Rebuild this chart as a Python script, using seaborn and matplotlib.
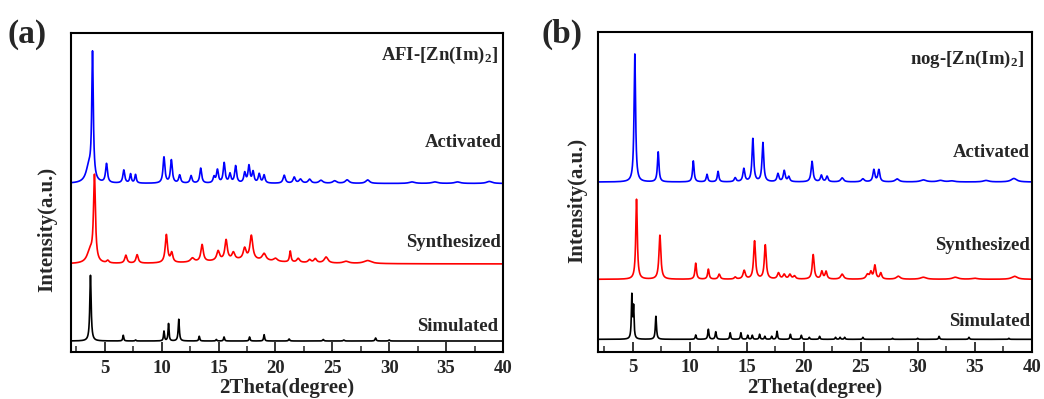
import numpy as np
import pandas as pd
import matplotlib
matplotlib.use("Agg")
import matplotlib.pyplot as plt
import seaborn as sns
from matplotlib.ticker import MultipleLocator

sns.set_theme(style="ticks")
plt.rcParams['font.family'] = ['Liberation Serif', 'DejaVu Serif']
plt.rcParams['font.weight'] = 'bold'
plt.rcParams['mathtext.fontset'] = 'custom'
plt.rcParams['mathtext.rm'] = 'Liberation Serif:bold'
plt.rcParams['mathtext.it'] = 'Liberation Serif:bold'
plt.rcParams['mathtext.bf'] = 'Liberation Serif:bold'
plt.rcParams['mathtext.default'] = 'rm'

# ---------------- Data (peak lists) ----------------
# Panel (a) AFI-[Zn(Im)2]
a_sim_base = 11.0
a_sim_pos = [3.74, 6.62, 7.7, 10.2, 10.6, 11.5, 13.3, 14.8, 15.48, 17.72, 19.0, 21.2, 24.2, 26.0, 28.8, 30.0]
a_sim_hgt = [65.7, 5.7, 1.0, 9.7, 17.3, 21.7, 4.7, 1.5, 4.0, 4.0, 6.3, 2.0, 1.5, 1.0, 3.0, 1.0]
a_sim_wid = [0.07, 0.05, 0.05, 0.05, 0.05, 0.06, 0.05, 0.05, 0.05, 0.05, 0.05, 0.06, 0.06, 0.06, 0.06, 0.06]

a_syn_base = 88.0
a_syn_pos = [3.7, 4.09, 5.26, 6.85, 7.84, 10.41, 10.88, 12.7, 13.55, 14.96, 15.66, 16.3, 17.29, 17.88,
             19.0, 20.0, 21.3, 22.0, 23.0, 23.5, 24.45, 26.2, 28.1, 17.0]
a_syn_hgt = [12.0, 85.0, 2.5, 8.0, 8.5, 28.0, 9.5, 4.0, 17.0, 9.5, 20.0, 7.0, 11.0, 24.0,
             7.0, 3.0, 11.0, 4.0, 3.0, 4.0, 6.0, 2.0, 3.0, 4.0]
a_syn_wid = [0.3, 0.1, 0.12, 0.12, 0.12, 0.12, 0.12, 0.2, 0.13, 0.15, 0.13, 0.15, 0.15, 0.15,
             0.2, 0.2, 0.08, 0.15, 0.15, 0.15, 0.2, 0.3, 0.4, 3.5]

a_act_base = 168.5
a_act_pos = [3.6, 3.92, 5.15, 6.67, 7.26, 7.7, 10.2, 10.85, 11.58, 12.58, 13.43, 14.6, 14.9, 15.49, 16.0,
             16.5, 17.3, 17.67, 18.03, 18.57, 19.0, 20.77, 21.65, 22.2, 23.0, 24.0, 25.2, 26.3, 28.1,
             32.0, 34.0, 36.0, 38.8]
a_act_hgt = [16.0, 125.0, 19.0, 13.0, 9.0, 8.5, 26.0, 23.0, 8.0, 7.5, 15.0, 6.0, 13.0, 20.0, 9.0,
             17.0, 10.0, 17.0, 11.0, 9.0, 8.0, 8.0, 6.0, 4.0, 4.0, 3.0, 2.5, 3.5, 3.5,
             1.5, 1.5, 1.5, 2.0]
a_act_wid = [0.3, 0.08, 0.1, 0.1, 0.08, 0.08, 0.1, 0.1, 0.1, 0.1, 0.1, 0.1, 0.1, 0.1, 0.1,
             0.1, 0.1, 0.1, 0.1, 0.1, 0.1, 0.12, 0.12, 0.15, 0.15, 0.2, 0.2, 0.2, 0.2,
             0.3, 0.3, 0.3, 0.3]

# Panel (b) nog-[Zn(Im)2]
b_sim_base = 12.4
b_sim_pos = [4.94, 5.09, 7.05, 10.54, 11.65, 12.3, 13.56, 14.5, 15.1, 15.5, 16.14, 16.6, 17.2, 17.67,
             18.84, 19.8, 20.5, 21.4, 22.8, 23.2, 23.6, 25.2, 27.8, 30.0, 31.88, 34.5, 38.0]
b_sim_hgt = [43.0, 31.0, 23.0, 4.3, 10.0, 7.5, 6.5, 6.5, 4.0, 4.0, 5.0, 3.0, 3.0, 8.0,
             5.0, 4.0, 2.0, 3.0, 2.0, 2.0, 2.0, 2.0, 1.0, 1.0, 3.0, 2.0, 1.0]
b_sim_wid = [0.05, 0.05, 0.06, 0.05, 0.06, 0.06, 0.05, 0.05, 0.05, 0.05, 0.05, 0.05, 0.05, 0.05,
             0.05, 0.05, 0.05, 0.05, 0.05, 0.05, 0.05, 0.05, 0.05, 0.05, 0.05, 0.05, 0.05]

b_syn_base = 72.4
b_syn_pos = [5.35, 7.4, 10.54, 11.65, 12.6, 14.0, 14.79, 15.7, 16.64, 17.8, 18.3, 18.8, 19.2,
             20.84, 21.6, 21.97, 23.38, 25.6, 25.9, 26.25, 26.77, 28.3, 30.5, 33.3, 35.0, 38.5]
b_syn_hgt = [80.0, 44.0, 16.0, 10.0, 5.0, 2.0, 8.5, 38.0, 34.0, 6.0, 4.5, 4.5, 3.0,
             24.5, 7.5, 7.5, 5.0, 4.5, 6.5, 13.5, 6.0, 3.0, 2.0, 2.0, 1.0, 3.0]
b_syn_wid = [0.08, 0.1, 0.08, 0.08, 0.1, 0.1, 0.12, 0.1, 0.1, 0.12, 0.12, 0.12, 0.12,
             0.1, 0.1, 0.1, 0.15, 0.15, 0.1, 0.1, 0.1, 0.2, 0.3, 0.3, 0.3, 0.3]

b_act_base = 169.7
b_act_pos = [5.2, 7.25, 10.33, 11.53, 12.5, 14.0, 14.76, 15.55, 16.43, 17.75, 18.3, 18.7,
             20.74, 21.56, 22.06, 23.38, 25.2, 26.16, 26.6, 28.2, 30.5, 32.0, 33.0, 36.0, 38.44]
b_act_hgt = [128.0, 30.0, 21.0, 7.5, 10.5, 4.0, 13.0, 43.0, 39.0, 8.0, 11.0, 5.0,
             20.5, 6.5, 5.5, 4.0, 3.0, 12.0, 12.0, 3.0, 2.0, 1.5, 1.0, 1.5, 3.5]
b_act_wid = [0.08, 0.08, 0.08, 0.08, 0.08, 0.1, 0.1, 0.09, 0.09, 0.1, 0.1, 0.1,
             0.1, 0.1, 0.1, 0.15, 0.15, 0.1, 0.1, 0.2, 0.3, 0.3, 0.3, 0.3, 0.3]

x_ticks = [5, 10, 15, 20, 25, 30, 35, 40]
series_labels = ["Activated", "Synthesized", "Simulated"]
panel_titles = [r"AFI-[Zn(Im)$_2$]", r"nog-[Zn(Im)$_2$]"]
panel_letters = ["(a)", "(b)"]

# ---------------- Build profiles ----------------
x = np.arange(2.0, 40.001, 0.01)


def profile(base, pos, hgt, wid):
    y = np.full_like(x, base)
    for c, h, w in zip(pos, hgt, wid):
        y += h / (1.0 + ((x - c) / w) ** 2)
    return y


panels = [
    dict(act=(a_act_base, a_act_pos, a_act_hgt, a_act_wid),
         syn=(a_syn_base, a_syn_pos, a_syn_hgt, a_syn_wid),
         sim=(a_sim_base, a_sim_pos, a_sim_hgt, a_sim_wid),
         ylim=(0, 319),
         txt=[(39.9, 209), (39.86, 109), (39.6, 25.5)],
         title=(39.6, 297),
         ylab=(-0.030, 0.384)),
    dict(act=(b_act_base, b_act_pos, b_act_hgt, b_act_wid),
         syn=(b_syn_base, b_syn_pos, b_syn_hgt, b_syn_wid),
         sim=(b_sim_base, b_sim_pos, b_sim_hgt, b_sim_wid),
         ylim=(0, 319.4),
         txt=[(39.8, 199), (39.86, 106), (39.86, 30)],
         title=(39.35, 292),
         ylab=(-0.026, 0.473)),
]

fig = plt.figure(figsize=(10.44, 3.99), dpi=100)
axes_rects = [[0.0677, 0.1178, 0.4141, 0.7995], [0.5731, 0.1185, 0.4151, 0.8005]]
letter_pos = [(0.007, 0.914), (0.519, 0.914)]

for i, p in enumerate(panels):
    ax = fig.add_axes(axes_rects[i])
    df = pd.concat([
        pd.DataFrame({"x": x, "y": profile(*p["sim"]), "s": "Simulated"}),
        pd.DataFrame({"x": x, "y": profile(*p["syn"]), "s": "Synthesized"}),
        pd.DataFrame({"x": x, "y": profile(*p["act"]), "s": "Activated"}),
    ])
    sns.lineplot(data=df, x="x", y="y", hue="s",
                 palette={"Simulated": "black", "Synthesized": "#ff0000", "Activated": "#0000ff"},
                 estimator=None, sort=False, linewidth=1.2, legend=False, ax=ax)
    ax.set_xlim(2, 40)
    ax.set_ylim(*p["ylim"])
    ax.set_yticks([])
    ax.set_xticks(x_ticks)
    ax.xaxis.set_minor_locator(MultipleLocator(2.5))
    ax.tick_params(axis='x', which='major', direction='in', length=7, width=1.3,
                   labelsize=13.5, pad=5.5, top=False)
    ax.tick_params(axis='x', which='minor', direction='in', length=4, width=1.1, top=False)
    for lab in ax.get_xticklabels():
        lab.set_fontweight('bold')
    for sp in ax.spines.values():
        sp.set_linewidth(1.5)
        sp.set_color('black')
        sp.set_visible(True)
    ax.set_xlabel("2Theta(degree)", fontsize=15, fontweight='bold', labelpad=1)
    ax.set_ylabel("Intensity(a.u.)", fontsize=15, fontweight='bold')
    ax.yaxis.set_label_coords(*p["ylab"])
    for (tx, ty), lab in zip(p["txt"], series_labels):
        ax.text(tx, ty, lab, ha='right', va='center', fontsize=13.5, fontweight='bold')
    ax.text(p["title"][0], p["title"][1], panel_titles[i], ha='right', va='center',
            fontsize=13.5, fontweight='bold')
    fig.text(letter_pos[i][0], letter_pos[i][1], panel_letters[i], fontsize=24,
             fontweight='bold', ha='left', va='center')

fig.savefig("out.png", dpi=100)
